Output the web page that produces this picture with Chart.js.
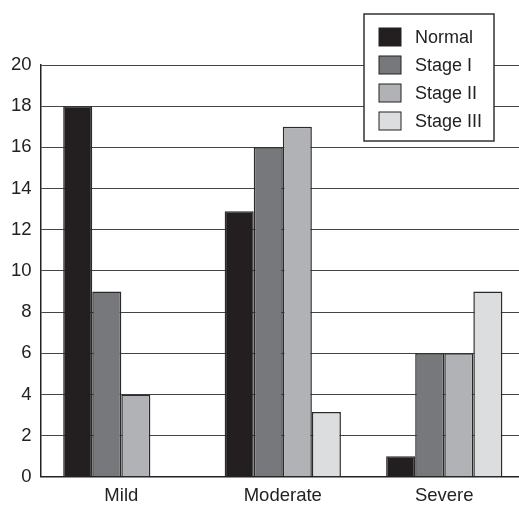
<!DOCTYPE html>
<html>
<head>
<meta charset="utf-8">
<script src="https://cdn.jsdelivr.net/npm/chart.js@4.4.1/dist/chart.umd.min.js"></script>
<style>
  html, body { margin: 0; padding: 0; background: #fff; overflow: hidden; }
  #wrap { width: 525px; height: 515px; }
</style>
</head>
<body>
<div id="wrap"><canvas id="c" width="525" height="515"></canvas></div>
<script>
const categories = ['Mild', 'Moderate', 'Severe'];
const seriesNames = ['Normal', 'Stage I', 'Stage II', 'Stage III'];
const normalValues = [18, 12.9, 1];
const stage1Values = [9, 16, 6];
const stage2Values = [4, 17, 6];
const stage3Values = [null, 3.15, 9];
const seriesColors = ['#231f20', '#77787b', '#b1b2b5', '#dcdddf'];
const yMin = 0, yMax = 20, yStep = 2;

const FONT = "'Liberation Sans', Arial, Helvetica, sans-serif";
const allValues = [normalValues, stage1Values, stage2Values, stage3Values];

const boxLegend = {
  id: 'boxLegend',
  afterDraw(chart) {
    const ctx = chart.ctx;
    const x0 = 364, y0 = 14, w = 130, h = 127;
    ctx.save();
    ctx.fillStyle = '#fff';
    ctx.fillRect(x0, y0, w, h);
    ctx.strokeStyle = '#333';
    ctx.lineWidth = 1.5;
    ctx.strokeRect(x0, y0, w, h);
    ctx.font = '18px ' + FONT;
    ctx.textBaseline = 'middle';
    ctx.textAlign = 'left';
    chart.data.datasets.forEach((ds, i) => {
      const cy = 37 + i * 28;
      ctx.fillStyle = ds.backgroundColor;
      ctx.fillRect(379, cy - 9, 22, 18);
      ctx.strokeStyle = '#222';
      ctx.lineWidth = 1;
      ctx.strokeRect(379, cy - 9, 22, 18);
      ctx.fillStyle = '#222';
      ctx.fillText(ds.label, 415, cy + 1);
    });
    ctx.restore();
  }
};

new Chart(document.getElementById('c'), {
  type: 'bar',
  data: {
    labels: categories,
    datasets: seriesNames.map((name, i) => ({
      label: name,
      data: allValues[i],
      backgroundColor: seriesColors[i],
      borderColor: '#2a2a2a',
      borderWidth: 1.5,
      barPercentage: 1,
      categoryPercentage: 0.72
    }))
  },
  options: {
    responsive: false,
    animation: false,
    layout: { padding: { top: 65, left: 2, right: 0, bottom: 0 } },
    plugins: { legend: { display: false }, tooltip: { enabled: false } },
    scales: {
      x: {
        grid: { display: false, drawTicks: false },
        border: { display: true, color: '#222', width: 1.5 },
        ticks: { color: '#222', font: { family: FONT, size: 18.5 }, padding: 8 }
      },
      y: {
        min: yMin, max: yMax,
        grid: { color: '#444', lineWidth: 1, drawTicks: false },
        border: { display: true, color: '#222', width: 1.5 },
        ticks: { stepSize: yStep, color: '#222', font: { family: FONT, size: 18.5 }, padding: 9 }
      }
    }
  },
  plugins: [boxLegend]
});
</script>
</body>
</html>
